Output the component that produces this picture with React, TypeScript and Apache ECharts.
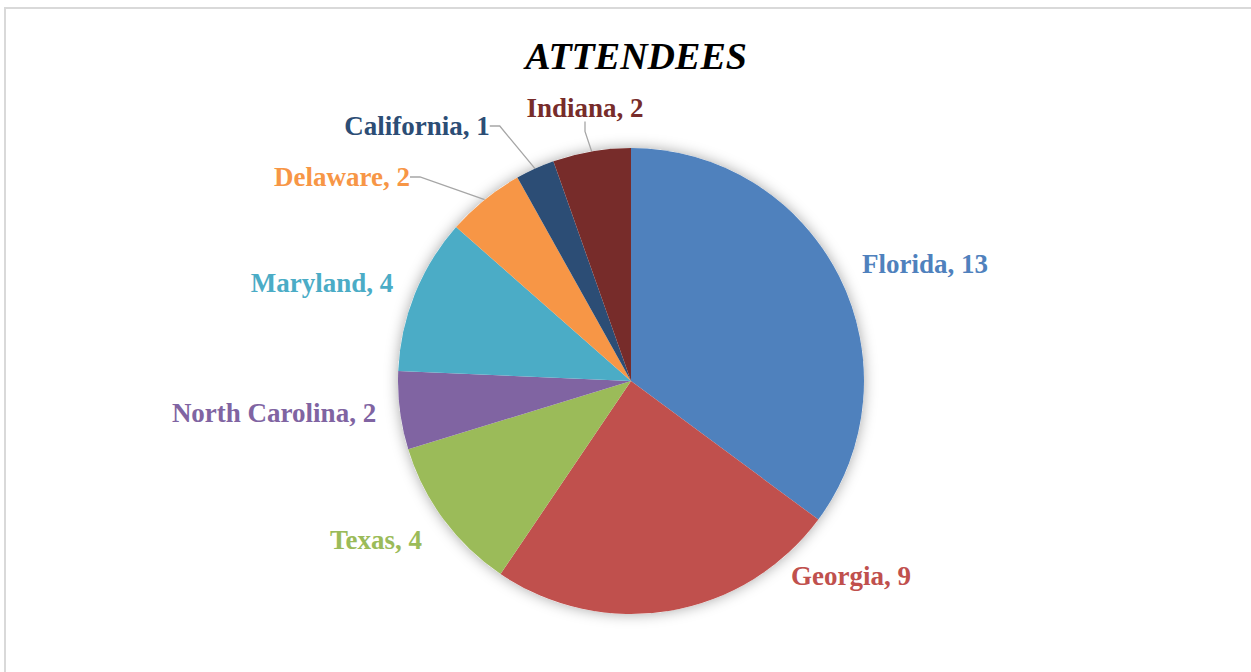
import React, { useEffect, useRef } from "react";
import * as echarts from "echarts";

const categories = ["Florida", "Georgia", "Texas", "North Carolina", "Maryland", "Delaware", "California", "Indiana"];
const values = [13, 9, 4, 2, 4, 2, 1, 2];
const colors = ["#4F81BD", "#C0504D", "#9BBB59", "#8064A2", "#4BACC6", "#F79646", "#2C4D75", "#772C2A"];
const showLeader = [false, false, false, false, false, true, true, true];
const titleText = "ATTENDEES";

// label centre positions (layout only)
const labelPos: [number, number][] = [
  [925, 264],
  [851, 576],
  [376, 540],
  [274, 413],
  [322, 283],
  [342, 177],
  [417, 126],
  [585, 108],
];

export default function App() {
  const ref = useRef<HTMLDivElement>(null);
  useEffect(() => {
    if (!ref.current) return;
    const chart = echarts.init(ref.current, null, { renderer: "svg" });
    const font = "'Liberation Serif', 'Times New Roman', serif";
    chart.setOption({
      animation: false,
      backgroundColor: "#ffffff",
      title: {
        text: titleText,
        left: 631,
        top: 32,
        textAlign: "center",
        textStyle: { fontFamily: font, fontSize: 38, fontWeight: "bold", fontStyle: "italic", color: "#000" },
      },
      graphic: [
        {
          type: "rect",
          shape: { x: 5, y: 8, width: 1260, height: 700 },
          style: { fill: "none", stroke: "#d9d9d9", lineWidth: 2 },
          silent: true,
        },
      ],
      series: [
        {
          type: "pie",
          silent: true,
          center: [631, 381],
          radius: 233,
          label: { show: false },
          labelLine: { show: false },
          data: [{ value: 1 }],
          itemStyle: { color: "#ffffff", shadowBlur: 14, shadowColor: "rgba(0,0,0,0.35)" },
          z: 1,
        },
        {
          type: "pie",
          center: [631, 381],
          radius: 233,
          startAngle: 90,
          clockwise: true,
          avoidLabelOverlap: false,
          z: 2,
          data: categories.map((c, i) => ({
            name: c,
            value: values[i],
            itemStyle: { color: colors[i] },
            label: { color: colors[i] },
            labelLine: { show: showLeader[i] },
          })),
          label: {
            show: true,
            position: "outside",
            formatter: "{b}, {c}",
            fontFamily: font,
            fontSize: 27,
            fontWeight: "bold",
          },
          labelLine: {
            length: 10,
            length2: 10,
            lineStyle: { color: "#a6a6a6", width: 1.3 },
          },
          labelLayout: (params: any) => {
            const p = labelPos[params.dataIndex];
            return { x: p[0], y: p[1], align: "center", verticalAlign: "middle" };
          },
        },
      ],
    });
    return () => chart.dispose();
  }, []);
  return <div ref={ref} style={{ position: "fixed", left: 0, top: 0, width: 1251, height: 672 }} />;
}
